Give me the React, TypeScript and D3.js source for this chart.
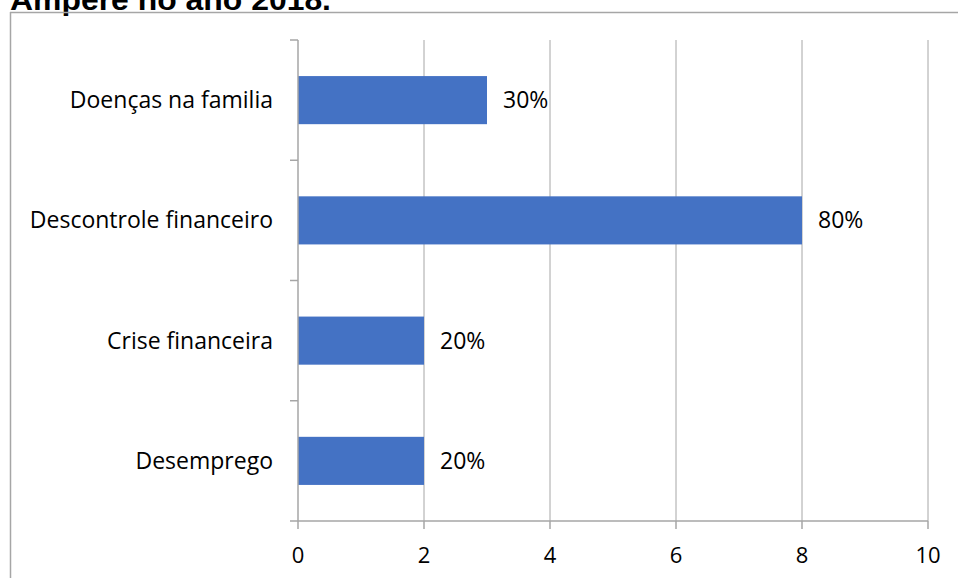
import React from "react";
import * as d3 from "d3";

const categories = ["Doenças na familia", "Descontrole financeiro", "Crise financeira", "Desemprego"];
const values = [3, 8, 2, 2];
const dataLabels = ["30%", "80%", "20%", "20%"];
const xTicks = [0, 2, 4, 6, 8, 10];
const title = "Ampère no ano 2018.";

const W = 958;
const H = 578;
const plotLeft = 298;
const plotRight = 928;
const plotTop = 40;
const plotBottom = 521;
const font = "'Open Sans', sans-serif";
const gridColor = "#a6a6a6";

export default function App() {
  const x = d3.scaleLinear().domain([0, 10]).range([plotLeft, plotRight]);
  const y = d3.scaleBand<string>().domain(categories).range([plotTop, plotBottom]).paddingInner(0.6).paddingOuter(0.3);
  const band = d3.scaleBand<string>().domain(categories).range([plotTop, plotBottom]);
  const boundaries = d3.range(categories.length + 1).map((i) => plotTop + i * band.step());

  return (
    <svg width={W} height={H} style={{ position: "absolute", left: 0, top: 0 }}>
      <rect x={0} y={0} width={W} height={H} fill="#fff" />
      <text x={10} y={10} fontFamily="Arial, 'Liberation Sans', sans-serif" fontWeight="bold" fontSize={30} textLength={321} lengthAdjust="spacingAndGlyphs" fill="#000">{title}</text>
      <line x1={10.5} y1={12} x2={10.5} y2={H} stroke="#a6a6a6" strokeWidth={1.5} />
      <line x1={10} y1={12.5} x2={W} y2={12.5} stroke="#a6a6a6" strokeWidth={1.5} />
      {xTicks.slice(1).map((t) => (
        <line key={t} x1={x(t)} x2={x(t)} y1={plotTop} y2={plotBottom} stroke={gridColor} strokeWidth={1} />
      ))}
      {categories.map((c, i) => (
        <rect key={c} x={x(0)} y={y(c)} width={x(values[i]) - x(0)} height={y.bandwidth()} fill="#4472C4" />
      ))}
      <line x1={plotLeft} x2={plotLeft} y1={plotTop} y2={plotBottom} stroke={gridColor} strokeWidth={1.5} />
      {boundaries.map((b, i) => (
        <line key={i} x1={plotLeft - 8} x2={plotLeft} y1={b} y2={b} stroke={gridColor} strokeWidth={1.5} />
      ))}
      <line x1={plotLeft} x2={plotRight} y1={plotBottom} y2={plotBottom} stroke={gridColor} strokeWidth={1.5} />
      {xTicks.map((t) => (
        <line key={t} x1={x(t)} x2={x(t)} y1={plotBottom} y2={plotBottom + 8} stroke={gridColor} strokeWidth={1.5} />
      ))}
      {xTicks.map((t) => (
        <text key={t} x={x(t)} y={563} textAnchor="middle" fontFamily={font} fontSize={22} fill="#000">{t}</text>
      ))}
      {categories.map((c) => (
        <text key={c} x={273} y={(band(c) as number) + band.bandwidth() / 2} dy="0.35em" textAnchor="end" fontFamily={font} fontSize={23} fill="#000">{c}</text>
      ))}
      {categories.map((c, i) => (
        <text key={c} x={x(values[i]) + 16} y={(y(c) as number) + y.bandwidth() / 2} dy="0.35em" textAnchor="start" fontFamily={font} fontSize={23} fill="#000">{dataLabels[i]}</text>
      ))}
    </svg>
  );
}
